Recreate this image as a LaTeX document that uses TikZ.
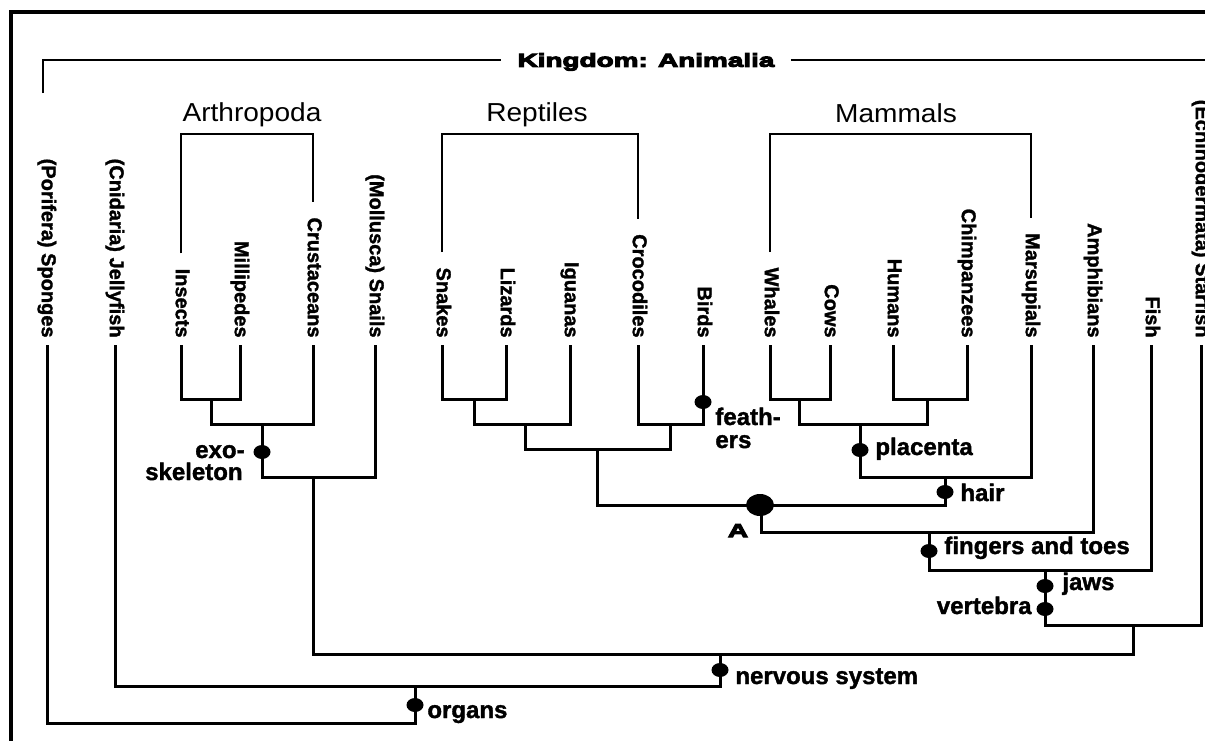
\documentclass[tikz,border=0pt]{standalone}
\usepackage{fontspec}
\setmainfont{Liberation Sans}
\newfontfamily\kingfont{Liberation Sans}[FakeStretch=1.5,FakeBold=6,BoldFeatures={FakeBold=6}]
\newfontfamily\groupfont{Liberation Sans}[FakeStretch=1.08]
\newfontfamily\labelfont{Liberation Sans}[FakeBold=1.5,BoldFeatures={FakeBold=1.5}]
\usepackage{tikz}
\usetikzlibrary{shapes.geometric}

\begin{document}
\begin{tikzpicture}[x=0.5pt, y=-0.5pt,
    tree/.style={line width=1.5pt},
    bracket/.style={line width=1.2pt},
    kingline/.style={line width=1pt},
    taxon/.style={rotate=-90, anchor=east, font=\labelfont\bfseries\fontsize{10}{12}\selectfont,
                  inner xsep=3.5pt, inner ysep=0pt, text height=7.2pt, text depth=2pt},
    group/.style={font=\groupfont\fontsize{13}{15}\selectfont, anchor=base, inner sep=0pt},
    kingdom/.style={font=\kingfont\bfseries\fontsize{9.3}{11}\selectfont, fill=white,
                    inner xsep=8pt, inner ysep=2pt, text height=6.7pt, text depth=0pt},
    note/.style={font=\labelfont\bfseries\fontsize{12}{14}\selectfont, inner sep=0pt},
    dot/.style={ellipse, fill, inner sep=0pt, minimum width=8.5pt, minimum height=7pt},
    bigdot/.style={dot, minimum width=14pt, minimum height=11pt}]
        \useasboundingbox (0,0) rectangle (1205,740);
        % outer frame
        \draw[line width=2pt] (10.5,760) -- (10.5,11.5) -- (1220,11.5);

        % kingdom
        \node[kingdom] (kingdom) at (646,60) {Kingdom: Animalia};
        \coordinate (kL) at (43,93);
        \coordinate (kR) at (1220,60);
        \draw[kingline] (kL) |- (kingdom.west);
        \draw[kingline] (kingdom.east) -- (kR);

        % taxa
        \foreach \nm/\px/\txt in {sponges/47/(Porifera) Sponges, jellyfish/115/(Cnidaria) Jellyfish,
                                 insects/181/Insects, millipedes/240/Millipedes, crustaceans/313/Crustaceans,
                                 snails/375/(Mollusca) Snails, snakes/442/Snakes, lizards/506/Lizards,
                                 iguanas/570/Iguanas, crocodiles/638/Crocodiles, birds/703/Birds,
                                 whales/770/Whales, cows/830/Cows, humans/893/Humans,
                                 chimpanzees/967/Chimpanzees, marsupials/1031/Marsupials,
                                 amphibians/1093/Amphibians, fish/1151/Fish,
                                 starfish/1201/(Echinodermata) Starfish}{
          \node[taxon] (\nm) at (\px,345) {\txt};
        }

        % groups
        \coordinate (brk) at (0,134);
        \node[group] (arthropoda) at (252,121) {Arthropoda};
        \node[group] (reptiles) at (537,121) {Reptiles};
        \node[group] (mammals) at (896,122) {Mammals};
        \draw[bracket] ([yshift=4pt]insects.west) |- (brk -| crustaceans.west) -- ([yshift=4pt]crustaceans.west);
        \draw[bracket] ([yshift=4pt]snakes.west) |- (brk -| crocodiles.west) -- ([yshift=4pt]crocodiles.west);
        \draw[bracket] ([yshift=4pt]whales.west) |- (brk -| marsupials.west) -- ([yshift=4pt]marsupials.west);

        % junctions
        \coordinate (imJ) at (211,399);
        \coordinate (arJ) at (262,424);
        \coordinate (moJ) at (313,477);
        \coordinate (slJ) at (474,399);
        \coordinate (sliJ) at (525,424);
        \coordinate (cbJ) at (670,424);
        \coordinate (rpJ) at (597,449);
        \coordinate (wcJ) at (799,399);
        \coordinate (hcJ) at (927,399);
        \coordinate (plJ) at (860,424);
        \coordinate (hrJ) at (945,477);
        \coordinate (aJ) at (761,505);
        \coordinate (fgJ) at (929,532);
        \coordinate (jwJ) at (1045,570);
        \coordinate (dtJ) at (1133,625);
        \coordinate (nsJ) at (720,654);
        \coordinate (orJ) at (415,686);
        \coordinate (rtJ) at (415,723);

        % tree
        \draw[tree] (insects.east) |- (imJ) -| (millipedes.east);
        \draw[tree] (imJ) |- (arJ) -| (crustaceans.east);
        \draw[tree] (arJ) |- (moJ) -| (snails.east);
        \draw[tree] (snakes.east) |- (slJ) -| (lizards.east);
        \draw[tree] (slJ) |- (sliJ) -| (iguanas.east);
        \draw[tree] (crocodiles.east) |- (cbJ) -| (birds.east);
        \draw[tree] (sliJ) |- (rpJ) -| (cbJ);
        \draw[tree] (whales.east) |- (wcJ) -| (cows.east);
        \draw[tree] (humans.east) |- (hcJ) -| (chimpanzees.east);
        \draw[tree] (wcJ) |- (plJ) -| (hcJ);
        \draw[tree] (plJ) |- (hrJ) -| (marsupials.east);
        \draw[tree] (rpJ) |- (aJ) -| (hrJ);
        \draw[tree] (aJ) |- (fgJ) -| (amphibians.east);
        \draw[tree] (fgJ) |- (jwJ) -| (fish.east);
        \draw[tree] (jwJ) |- (dtJ) -| (starfish.east);
        \draw[tree] (moJ) |- (nsJ) -| (dtJ);
        \draw[tree] (jellyfish.east) |- (orJ) -| (nsJ);
        \draw[tree] (sponges.east) |- (rtJ) -- (orJ);

        % traits
        \node[dot] (exoskeleton) at (262,452) {};
        \node[dot] (feathers) at (703,402) {};
        \node[dot] (placenta) at (860,450) {};
        \node[dot] (hair) at (945,492) {};
        \node[bigdot] (nodeA) at (760,505) {};
        \node[dot] (fingers) at (929,551) {};
        \node[dot] (jaws) at (1045,586) {};
        \node[dot] (vertebra) at (1045,609) {};
        \node[dot] (nervous) at (720,670) {};
        \node[dot] (organs) at (415,705) {};

        \node[note, anchor=base east] (exoTxt) at (245,458) {exo-};
        \node[note, anchor=base east] (skelTxt) at (243,480) {skeleton};
        \node[note, anchor=base west] (featTxt) at (715,425) {feath-};
        \node[note, anchor=base west] (ersTxt) at (715,448) {ers};
        \node[note, anchor=base west] (placTxt) at (875,455) {placenta};
        \node[note, anchor=base west] (hairTxt) at (960,501) {hair};
        \node[font=\kingfont\bfseries\fontsize{9.3}{11}\selectfont, inner sep=0pt, anchor=base] (aTxt) at (738,537) {A};
        \node[note, anchor=base west] (fingTxt) at (944,554) {fingers and toes};
        \node[note, anchor=base west] (jawsTxt) at (1062,590) {jaws};
        \node[note, anchor=base east] (vertTxt) at (1032,614) {vertebra};
        \node[note, anchor=base west] (nervTxt) at (735,684) {nervous system};
        \node[note, anchor=base west] (orgTxt) at (427,718) {organs};
      \end{tikzpicture}
\end{document}
